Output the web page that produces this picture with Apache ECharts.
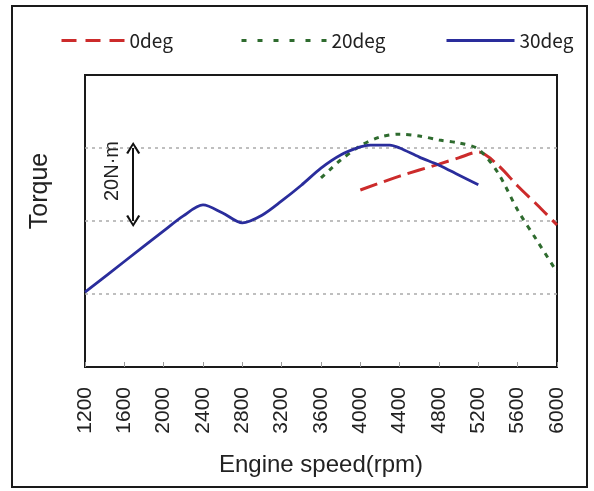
<!DOCTYPE html>
<html>
<head>
<meta charset="utf-8">
<script src="https://cdn.jsdelivr.net/npm/echarts@6/dist/echarts.min.js"></script>
<style>
html,body{margin:0;padding:0;background:#fff;}
#c{width:594px;height:491px;}
</style>
</head>
<body>
<div id="c"></div>
<script>
// ---- data ----
const xTicks = [1200,1600,2000,2400,2800,3200,3600,4000,4400,4800,5200,5600,6000];
const rpm30 = [1200,1600,2000,2200,2400,2600,2800,3000,3200,3400,3600,3800,4000,4100,4300,4400,4600,4800,5000,5200];
const torque30 = [100.5,108.9,117.3,121.4,124.4,122.2,119.5,121.6,125.5,129.8,134.5,138.1,140.3,140.8,140.8,140.0,137.5,135.3,132.6,129.9];
const rpm20 = [3600,3700,3800,4000,4200,4400,4600,4800,5000,5200,5400,5600,5800,6000];
const torque20 = [131.8,134.3,136.7,140.6,143.0,143.8,143.3,142.2,141.4,139.7,133.2,123.0,114.5,106.0];
const rpm0 = [4000,4400,4800,5000,5200,5400,5600,5800,6000];
const torque0 = [128.5,132.3,135.6,137.3,138.9,135.3,129.6,124.4,118.9];
const scaleArrow = {rpm: 1690, from: 140, to: 120, label: '20N·m'};
const seriesNames = ['0deg','20deg','30deg'];

const zip = (a,b) => a.map((v,i)=>[v,b[i]]);

const chart = echarts.init(document.getElementById('c'), null, {renderer:'canvas'});
const chevron = 'path://M0,10 L5,0 L10,10 L8.6,11 L5,3.2 L1.4,11 Z';
const legendText = {fontFamily:'Noto Sans CJK JP', fontSize:19, color:'#222'};

const option = {
  animation:false,
  backgroundColor:'#fff',
  grid:{left:85, right:37, top:75, bottom:124, show:true, borderColor:'#1a1a1a', borderWidth:2, backgroundColor:'transparent'},
  legend:[
    {data:[seriesNames[0]], left:55, top:26, itemWidth:63, itemHeight:14, itemGap:0,
     itemStyle:{opacity:0}, lineStyle:{type:[15,9], width:3}, textStyle:legendText},
    {data:[seriesNames[1]], left:235, top:26, itemWidth:85, itemHeight:14, itemGap:0,
     itemStyle:{opacity:0}, lineStyle:{type:[5,11], width:3}, textStyle:legendText},
    {data:[seriesNames[2]], left:440, top:26, itemWidth:68, itemHeight:14, itemGap:0,
     itemStyle:{opacity:0}, lineStyle:{type:'solid', width:3}, textStyle:legendText}
  ],
  xAxis:{
    type:'value', min:1200, max:6000, interval:400,
    name:'Engine speed(rpm)', nameLocation:'middle', nameGap:86,
    nameTextStyle:{fontFamily:'Liberation Sans', fontSize:24, color:'#222'},
    axisLine:{show:false},
    axisTick:{show:true, inside:true, length:5, lineStyle:{color:'#999', width:1}},
    axisLabel:{rotate:90, margin:20, fontFamily:'Liberation Sans', fontSize:21, color:'#222',
      formatter:(v)=> xTicks.includes(v) ? String(v) : ''},
    splitLine:{show:false}
  },
  yAxis:{
    type:'value', min:80, max:160, interval:20,
    axisLine:{show:false}, axisTick:{show:false}, axisLabel:{show:false},
    splitLine:{show:true, showMinLine:false, showMaxLine:false, lineStyle:{color:'#aaa', type:[3,4], width:1.5}}
  },
  series:[
    {name:seriesNames[0], type:'line', data:zip(rpm0,torque0), showSymbol:false, symbol:'none', smooth:0.3,
     lineStyle:{color:'#cc2b2b', width:3, type:[18,7]}, itemStyle:{color:'#cc2b2b'}, z:3},
    {name:seriesNames[1], type:'line', data:zip(rpm20,torque20), showSymbol:false, symbol:'none', smooth:0.3,
     lineStyle:{color:'#2e6b2e', width:3, type:[5,6]}, itemStyle:{color:'#2e6b2e'}, z:4},
    {name:seriesNames[2], type:'line', data:zip(rpm30,torque30), showSymbol:false, symbol:'none', smooth:0.3,
     lineStyle:{color:'#2a2d9c', width:2.8, type:'solid'}, itemStyle:{color:'#2a2d9c'}, z:5,
     markLine:{silent:true, symbol:[chevron, chevron], symbolSize:[14,12],
       label:{show:false}, lineStyle:{color:'#111', width:2, type:'solid'},
       emphasis:{disabled:true},
       data:[[{coord:[scaleArrow.rpm, scaleArrow.from]},{coord:[scaleArrow.rpm, scaleArrow.to]}]]}
    }
  ]
};
chart.setOption(option);

const p = chart.convertToPixel({gridIndex:0}, [1480, (scaleArrow.from+scaleArrow.to)/2 + 3.7]);
chart.setOption({
  graphic:[
    {type:'rect', shape:{x:12, y:6, width:575, height:481}, style:{fill:null, stroke:'#1a1a1a', lineWidth:2}, silent:true, z:-1},
    {type:'text', x:p[0], y:p[1], rotation:Math.PI/2,
     style:{text:scaleArrow.label, fontFamily:'Liberation Sans', fontSize:20, fill:'#222', align:'center', verticalAlign:'middle'}},
    {type:'text', x:40, y:191, rotation:Math.PI/2,
     style:{text:'Torque', fontFamily:'Liberation Sans', fontSize:25, fill:'#222', align:'center', verticalAlign:'middle'}}
  ]
});
</script>
</body>
</html>
